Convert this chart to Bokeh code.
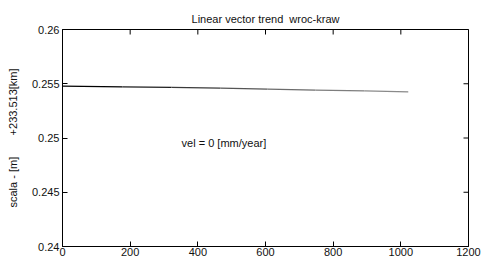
import math
from bokeh.plotting import figure
from bokeh.models import FixedTicker, Range1d, Label
from bokeh.embed import file_html
from bokeh.resources import INLINE

# data
days = [0, 177, 322, 467, 606, 748, 893, 1022]
scale_m = [0.25478, 0.25472, 0.25466, 0.25459, 0.25450, 0.25442, 0.25434, 0.25426]
seg_colors = ["#000000", "#1e1e1e", "#3a3a3a", "#555555", "#6c6c6c", "#7e7e7e", "#8a8a8a"]
x_ticks = [0, 200, 400, 600, 800, 1000, 1200]
y_ticks = [0.24, 0.245, 0.25, 0.255, 0.26]
y_tick_labels = ["0.24", "0.245", "0.25", "0.255", "0.26"]
title_text = "Linear vector trend  wroc-kraw"
y_label = "scala - [m]" + "\u00a0" * 7 + "+233.513[km]"
vel_text = "vel = 0 [mm/year]"
vel_pos = (352, 0.24955)

FONT = "Liberation Sans"
X0, X1 = 0, 1200
Y0, Y1 = 0.24, 0.26

p = figure(width=481, height=265, output_backend="svg", toolbar_location=None,
           x_range=Range1d(X0, X1), y_range=Range1d(Y0, Y1),
           min_border_left=62, min_border_right=13, min_border_top=29, min_border_bottom=19,
           title=title_text.replace("  ", " \u00a0"))
p.title.align = "center"
p.title.text_font = FONT
p.title.text_font_size = "11px"
p.title.text_font_style = "normal"
p.title.text_color = "#111111"
p.title.offset = 0
p.title.standoff = 10

p.xgrid.visible = False
p.ygrid.visible = False
p.outline_line_color = "black"
p.outline_line_width = 1
p.background_fill_color = "white"
p.border_fill_color = "white"

for ax in (p.xaxis[0], p.yaxis[0]):
    ax.major_tick_in = 5
    ax.major_tick_out = 0
    ax.minor_tick_line_color = None
    ax.major_label_text_font = FONT
    ax.major_label_text_font_size = "11px"
    ax.major_label_text_color = "#111111"
    ax.axis_line_color = "black"
    ax.major_tick_line_color = "black"

p.xaxis[0].ticker = FixedTicker(ticks=x_ticks)
p.xaxis[0].major_label_standoff = 1
p.yaxis[0].ticker = FixedTicker(ticks=y_ticks)
p.yaxis[0].major_label_overrides = {t: s for t, s in zip(y_ticks, y_tick_labels)}
p.yaxis[0].major_label_standoff = 3
p.yaxis[0].axis_label = y_label
p.yaxis[0].axis_label_text_font = FONT
p.yaxis[0].axis_label_text_font_size = "11px"
p.yaxis[0].axis_label_text_font_style = "normal"
p.yaxis[0].axis_label_text_color = "#111111"
p.yaxis[0].axis_label_standoff = 10

# inward ticks on top and right edges (dash markers clipped by the frame)
p.scatter(x=x_ticks, y=[Y1] * len(x_ticks), marker="dash", size=10, angle=math.pi / 2,
          line_color="black", line_width=1)
p.scatter(x=[X1] * len(y_ticks), y=y_ticks, marker="dash", size=10,
          line_color="black", line_width=1)

p.segment(x0=days[:-1], y0=scale_m[:-1], x1=days[1:], y1=scale_m[1:],
          line_color=seg_colors, line_width=1.2)

p.add_layout(Label(x=vel_pos[0], y=vel_pos[1], text=vel_text, text_font=FONT,
                   text_font_size="11px", text_color="#111111",
                   text_baseline="middle", text_align="left"))

open("out.html", "w").write(file_html(p, INLINE))
